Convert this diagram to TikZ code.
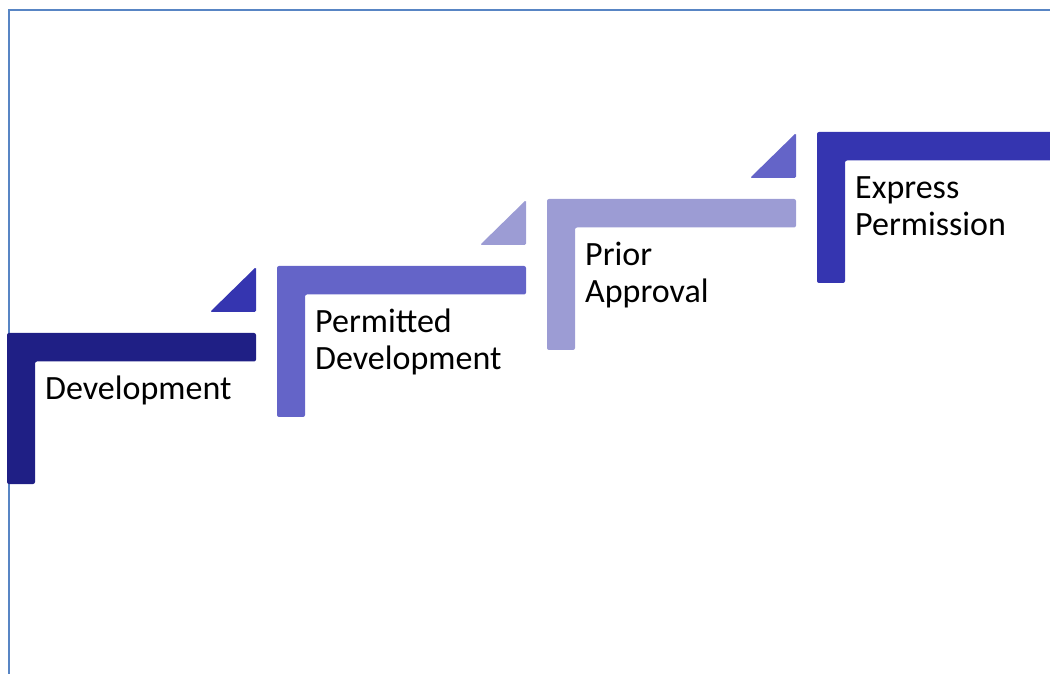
\documentclass[tikz,border=0pt]{standalone}
\usepackage{fontspec}
\setmainfont{Carlito}
\usepackage{tikz}
\definecolor{stepnavy}{RGB}{31,31,133}
\definecolor{stepmid}{RGB}{100,100,200}
\definecolor{steplight}{RGB}{156,156,212}
\definecolor{stepdeep}{RGB}{53,53,176}
\definecolor{framecol}{RGB}{88,133,196}
\tikzset{
    stair/.style={fill=#1,draw=none,rounded corners=2pt},
    tip/.style={fill=#1,draw=none,rounded corners=1.5pt},
    lbl/.style={anchor=north west,align=left,inner sep=0pt,text=black,
        font=\fontsize{34}{37.5}\selectfont},
    frame/.style={draw=framecol,line width=2pt},
}
\begin{document}
\begin{tikzpicture}[x=1pt,y=1pt]
\clip (0,0) rectangle (1050,673);
\def\dx{270}
\def\dy{67}
\draw[frame] (9,-20) rectangle (1080,663);
% the four stairs with their labels
\foreach \i/\col/\txt in {0/stepnavy/{Development},
                          1/stepmid/{Permitted\\Development},
                          2/steplight/{Prior\\Approval},
                          3/stepdeep/{Express\\Permission}}{
    \coordinate (c\i) at ({7+\dx*\i},{340+\dy*\i});
    \fill[stair=\col] (c\i) -- ++(249,0) -- ++(0,-28.5) -- ++(-221,0)
        -- ++(0,-122.5) -- ++(-28,0) -- cycle;
    \node[lbl] (s\i) at ([shift={(38,-40)}]c\i) {\strut\txt};
}
% small corner tips
\foreach \i/\col in {0/stepdeep,1/steplight,2/stepmid}{
    \fill[tip=\col] ([shift={(249,21)}]c\i) -- ++(0,45) -- ++(-46,-45) -- cycle;
}
\end{tikzpicture}
\end{document}
